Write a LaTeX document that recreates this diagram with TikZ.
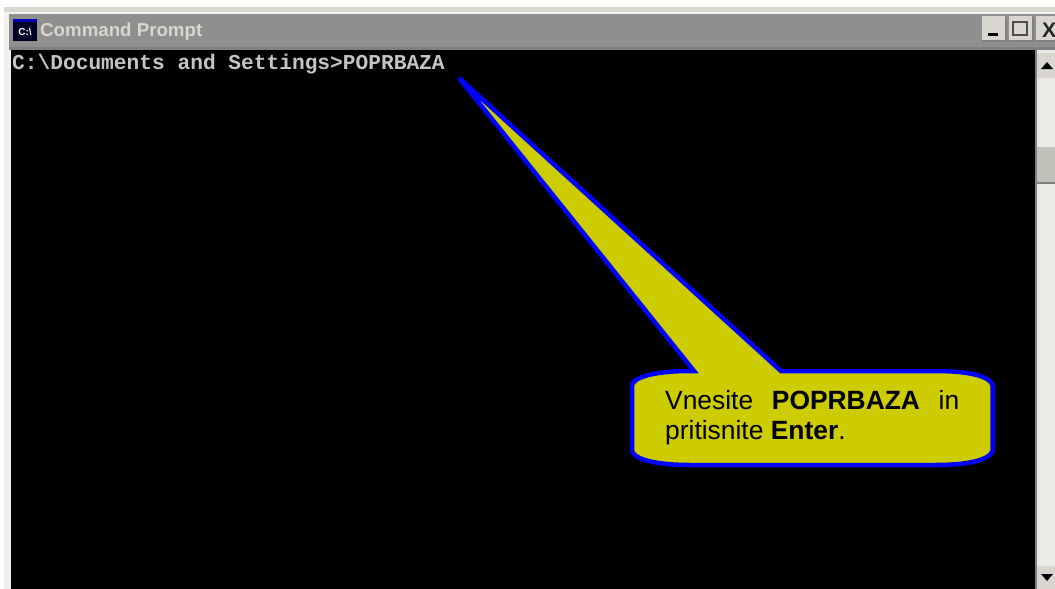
\documentclass[tikz,border=0pt]{standalone}
\usepackage{fontspec}
\setmainfont{Liberation Sans}
\newfontfamily\monof{Liberation Mono}
\definecolor{calloutfill}{HTML}{CCCC00}
\definecolor{calloutline}{HTML}{0000FF}
\definecolor{titlebar}{HTML}{8F8F8F}
\definecolor{chrome}{HTML}{D8D6CE}
\definecolor{trackc}{HTML}{ECEAE4}
\definecolor{consoletext}{HTML}{C4C4C4}
\tikzset{
  btn/.style={fill=chrome,draw=none},
  btnshade/.style={fill=gray,draw=none},
  glyph/.style={fill=black,draw=none},
  btnlabel/.style={font=\fontsize{21}{21}\selectfont\bfseries,text=black!85,inner sep=0pt,anchor=base},
}
\begin{document}
\begin{tikzpicture}[x=1pt,y=-1pt]
\useasboundingbox (0,0) rectangle (1055,589);
\fill[white] (0,0) rectangle (1055,589);
% window frame
\fill[chrome!35!white] (4,7) rectangle (1055,589);
\fill[chrome] (4,7) rectangle (1055,12);
\fill[titlebar] (9,14) rectangle (1055,47);
\fill[gray] (9,47) rectangle (1055,50);
% console
\fill[black] (11,50) rectangle (1035,589);
% title icon
\fill[black!85!blue] (13,19) rectangle (37,41);
\fill[blue!70!black] (13,19) rectangle (37,22);
\node[inner sep=0pt,anchor=center,text=white] (icon) at (25,31.5) {\fontsize{10}{10}\selectfont\bfseries C:\textbackslash};
\node[inner sep=0pt,anchor=base west,text=chrome] (title) at (40,36) {\fontsize{18.7}{18.7}\selectfont\bfseries Command Prompt};
% buttons
\fill[btnshade] (982,18) rectangle (1007,42);
\fill[btnshade] (1009,18) rectangle (1034,42);
\fill[btnshade] (1036,18) rectangle (1055,42);
\fill[btn] (982,16) rectangle (1005,40);
\fill[btn] (1009,16) rectangle (1032,40);
\fill[btn] (1036,16) rectangle (1055,40);
\fill[glyph] (988,33) rectangle (998,36);
\draw[black!70,line width=2pt] (1013,22) rectangle (1027,35);
\node[btnlabel] (closeglyph) at (1049,37) {X};
% scrollbar
\fill[trackc] (1035,50) rectangle (1055,589);
\fill[gray] (1035,50) rectangle (1036.5,589);
\fill[btn] (1037,53) rectangle (1055,78);
\fill[glyph] (1041,69) -- (1053,69) -- (1047,62) -- cycle;
\fill[chrome!90!black] (1037,147) rectangle (1055,183);
\fill[gray] (1037,182) rectangle (1055,184);
\fill[btn] (1037,566) rectangle (1055,589);
\fill[glyph] (1041,574) -- (1053,574) -- (1047,581) -- cycle;
% console text
\node[inner sep=0pt,anchor=base west,text=consoletext] (cmd) at (12,69.5)
  {\monof\bfseries\fontsize{21.2}{21.2}\selectfont C:\textbackslash Documents and Settings>POPRBAZA};
% callout
\coordinate (tip) at (459,78);
\draw[line width=4.5pt,draw=calloutline,fill=calloutfill,line join=miter]
  (tip) -- (781,371) -- (935,371)
  .. controls (972,371) and (990,377) .. (992.5,385)
  -- (992.5,451)
  .. controls (990,459) and (972,465) .. (935,465)
  -- (690,465)
  .. controls (655,465) and (634,459) .. (632,451)
  -- (632,385)
  .. controls (634,377) and (655,371) .. (690,371)
  -- (694,371) -- cycle;
\node[inner sep=0pt,anchor=north west,text width=294pt,align=justify,text=black,font=\fontsize{26.4}{30}\selectfont] (label) at (665,388)
  {\strut Vnesite \textbf{POPRBAZA} in pritisnite \textbf{Enter}.\strut};
\end{tikzpicture}
\end{document}
